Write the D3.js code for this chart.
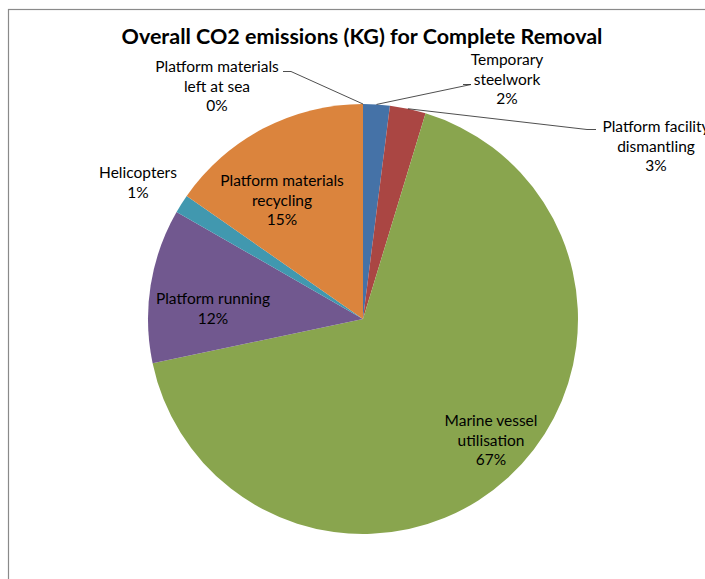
<!DOCTYPE html>
<html>
<head>
<meta charset="utf-8">
<script src="https://cdn.jsdelivr.net/npm/d3@7"></script>
<style>
  html, body { margin: 0; padding: 0; background: #fff; }
  svg { display: block; }
  text { font-family: Lato, "Open Sans", sans-serif; fill: #000; }
</style>
</head>
<body>
<svg id="chart" width="705" height="579"></svg>
<script>
// Share of total CO2 (%) per activity, clockwise from 12 o'clock
const categories = [
  "Temporary steelwork",
  "Platform facility dismantling",
  "Marine vessel utilisation",
  "Platform running",
  "Helicopters",
  "Platform materials recycling",
  "Platform materials left at sea"
];
const shares = [2.0, 2.7, 67.0, 11.6, 1.4, 15.3, 0.0];
const colors = ["#4572A7", "#AA4643", "#89A54E", "#71588F", "#4198AF", "#DB843D", "#93A9CF"];

// Label line breaks, as set in the chart
const labelLines = {
  "Temporary steelwork": ["Temporary", "steelwork"],
  "Platform facility dismantling": ["Platform facility", "dismantling"],
  "Marine vessel utilisation": ["Marine vessel", "utilisation"],
  "Platform running": ["Platform running"],
  "Helicopters": ["Helicopters"],
  "Platform materials recycling": ["Platform materials", "recycling"],
  "Platform materials left at sea": ["Platform materials", "left at sea"]
};

const W = 705, H = 579;
const cx = 363, cy = 319, R = 215;

const svg = d3.select("#chart");

// Chart area frame
svg.append("rect")
  .attr("x", 8.5).attr("y", 9.5)
  .attr("width", W + 20).attr("height", H + 20)
  .attr("fill", "#fff")
  .attr("stroke", "#8a8a8a")
  .attr("stroke-width", 1.2);

svg.append("text")
  .attr("x", 362).attr("y", 44)
  .attr("text-anchor", "middle")
  .style("font-weight", "bold")
  .style("font-size", "21.5px")
  .text("Overall CO2 emissions (KG) for Complete Removal");

const data = categories.map((c, i) => ({ name: c, value: shares[i], color: colors[i] }));
const total = d3.sum(shares);

const pie = d3.pie().sort(null).value(d => d.value);
const arcs = pie(data);
const arc = d3.arc().innerRadius(0).outerRadius(R);

const g = svg.append("g").attr("transform", `translate(${cx},${cy})`);

g.selectAll("path.slice")
  .data(arcs)
  .join("path")
  .attr("class", "slice")
  .attr("d", arc)
  .attr("fill", d => d.data.color);

// Label placement: centre x and first-line baseline of each text block, plus optional leader
const layout = {
  "Temporary steelwork":            { x: 507, y: 65, leader: [[463, 84.5], [471, 84.5]] },
  "Platform facility dismantling":  { x: 656, y: 132, leader: [[596, 129.5], [587, 129.5]] },
  "Marine vessel utilisation":      { x: 491, y: 426 },
  "Platform running":               { x: 213, y: 304 },
  "Helicopters":                    { x: 138, y: 178 },
  "Platform materials recycling":   { x: 282, y: 186 },
  "Platform materials left at sea": { x: 217, y: 72, leader: [[283, 71.5], [291, 71.5]] }
};
const lineH = 19.7;

const labels = svg.append("g");
arcs.forEach(a => {
  const name = a.data.name;
  const L = layout[name];
  const pct = Math.round(a.data.value / total * 100) + "%";
  const lines = labelLines[name].concat([pct]);

  if (L.leader) {
    const mid = (a.startAngle + a.endAngle) / 2;
    const p = [cx + R * Math.sin(mid), cy - R * Math.cos(mid)];
    const pts = [L.leader[0], L.leader[1], p];
    labels.append("path")
      .attr("d", d3.line()(pts))
      .attr("fill", "none")
      .attr("stroke", "#222")
      .attr("stroke-width", 0.8);
  }

  const t = labels.append("text")
    .attr("text-anchor", "middle")
    .style("font-size", "15.5px");
  lines.forEach((ln, i) => {
    t.append("tspan")
      .attr("x", L.x)
      .attr("y", L.y + i * lineH)
      .text(ln);
  });
});
</script>
</body>
</html>
